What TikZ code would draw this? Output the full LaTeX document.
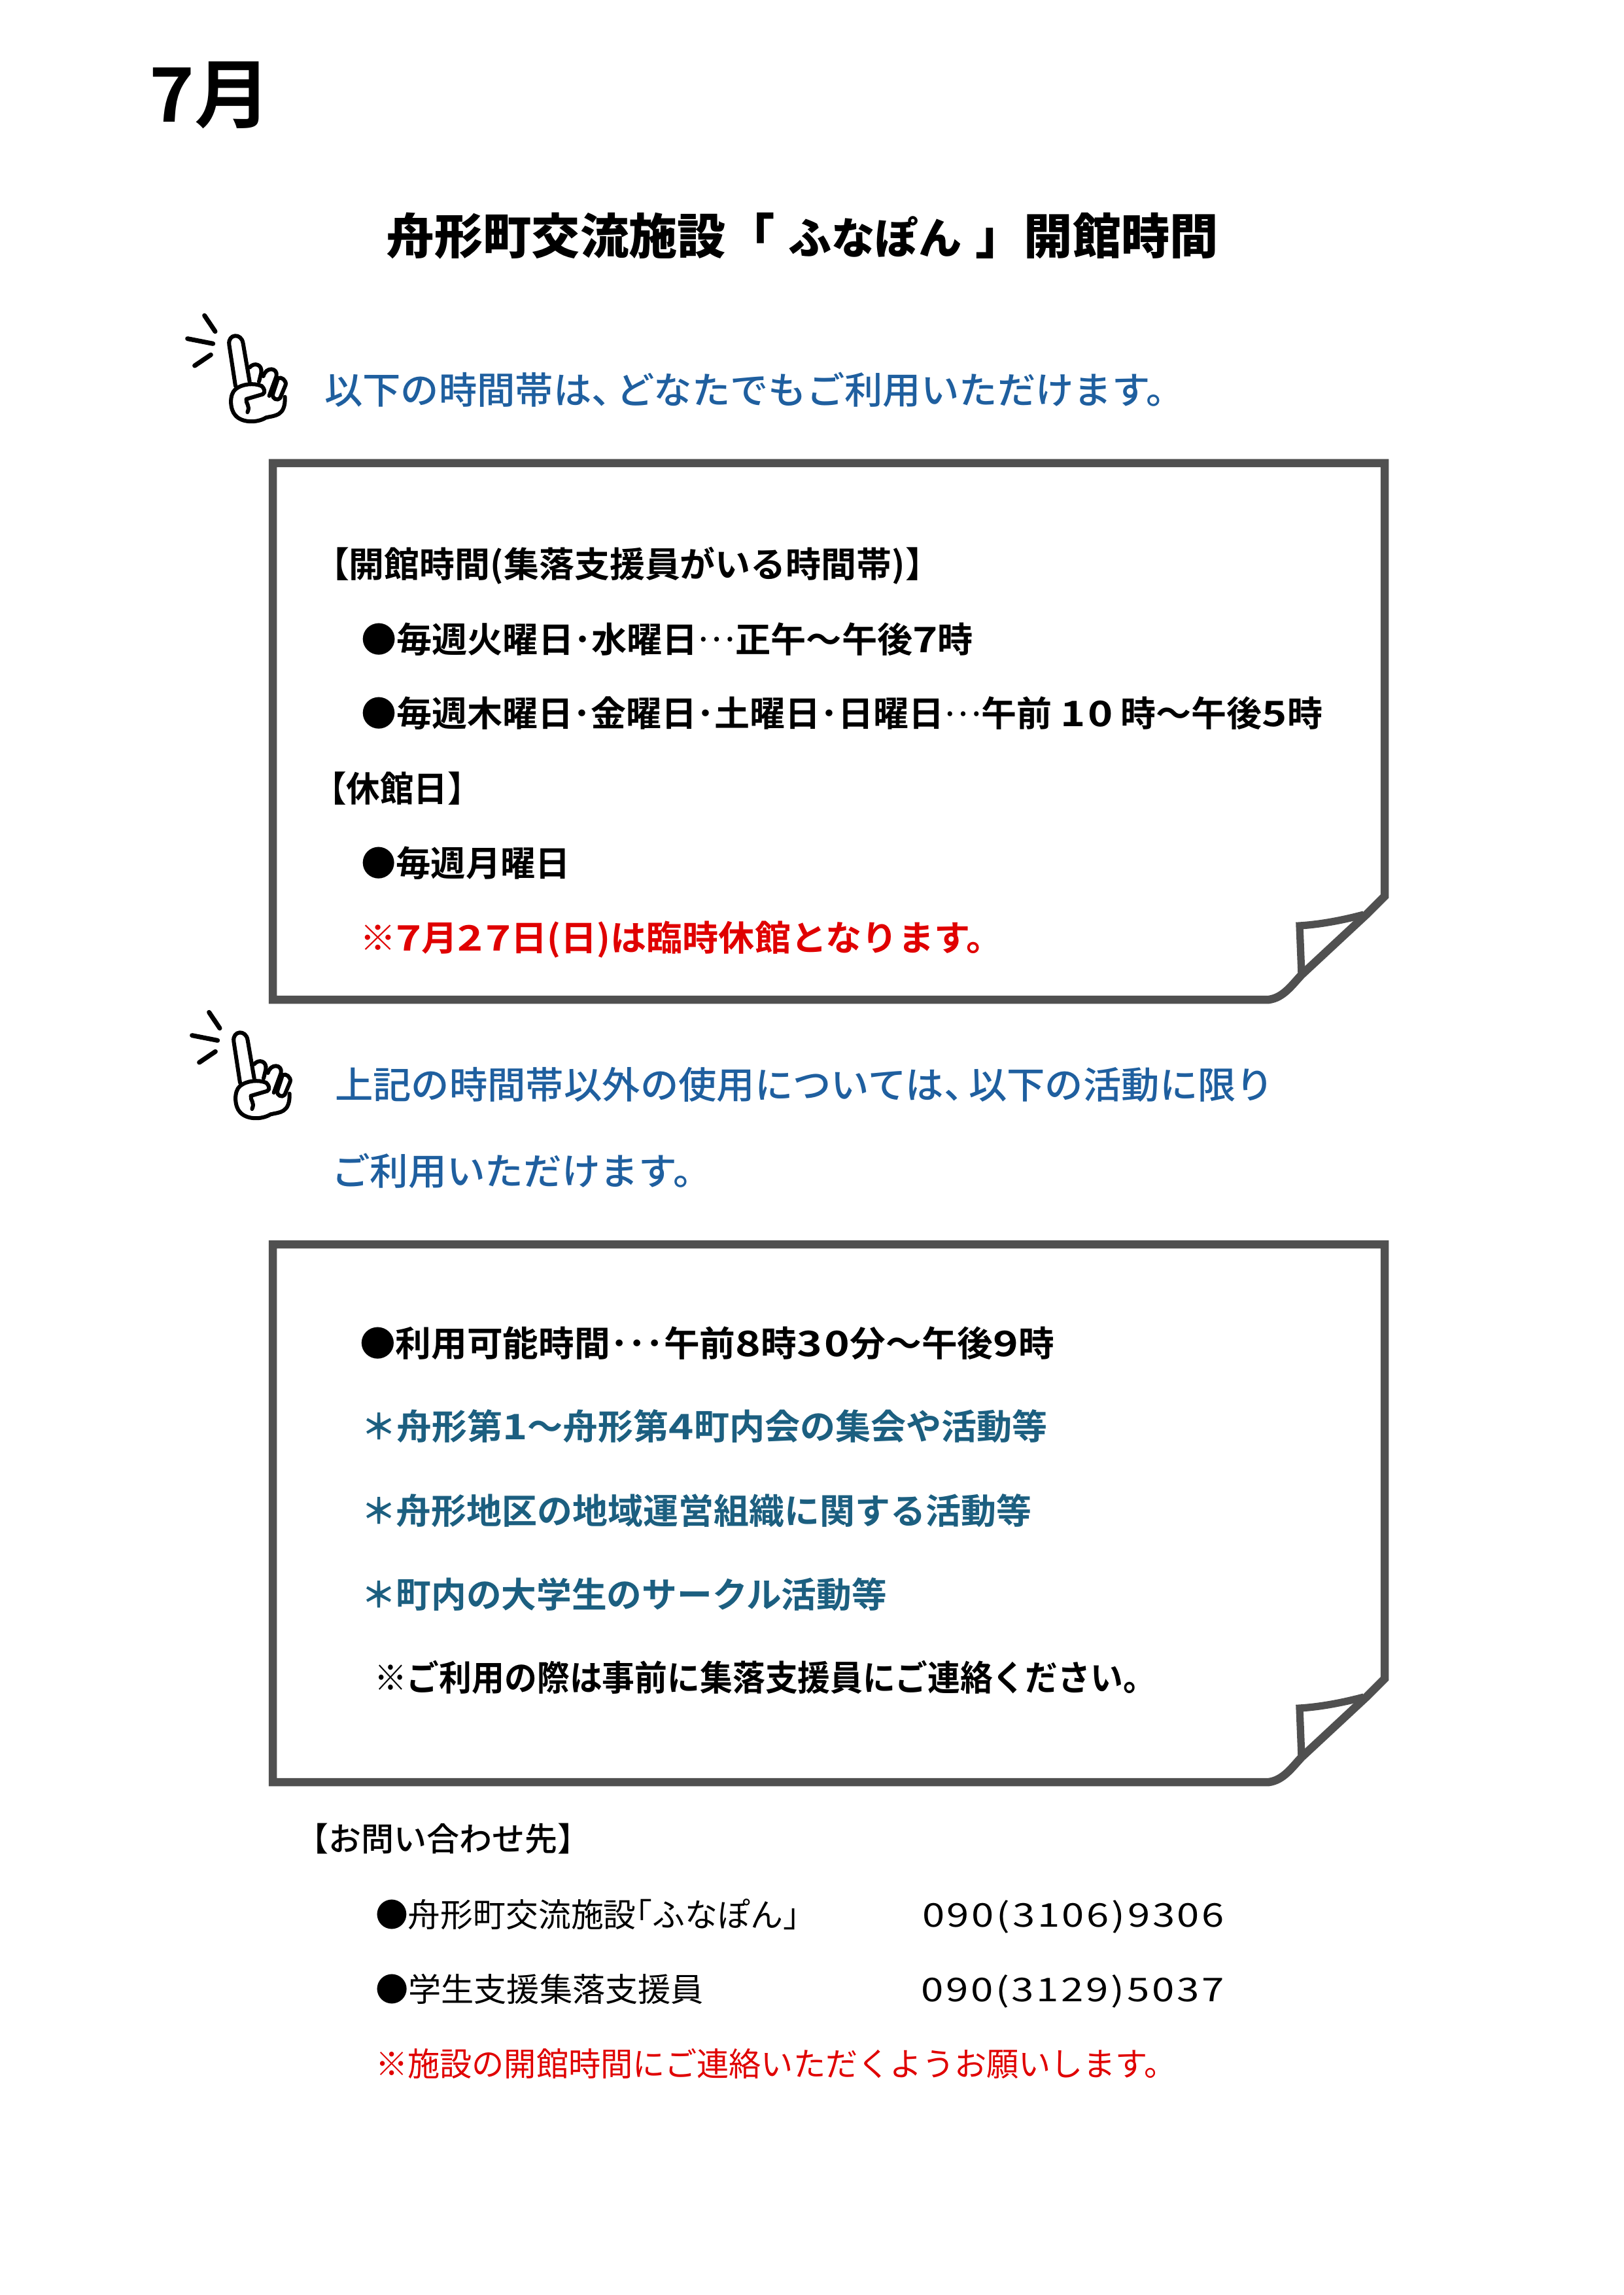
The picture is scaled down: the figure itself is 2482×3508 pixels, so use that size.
\documentclass[tikz,border=0pt]{standalone}
\usepackage{fontspec}
\usepackage{graphicx}
\setmainfont{Noto Sans CJK JP}[BoldFont={Noto Sans CJK JP Bold}]
\newfontfamily\jpm{Noto Sans CJK JP Medium}
\newfontfamily\jpb{Noto Sans CJK JP Bold}
\newfontfamily\jpk{Noto Sans CJK JP Black}
\newfontfamily\jpr{Noto Sans CJK JP}
\newlength{\pxu}\setlength{\pxu}{0.24pt}
\newcommand{\fit}[2]{\resizebox{#1\pxu}{\height}{#2}}
\newcommand{\fsz}[1]{\fontsize{\dimexpr #1\pxu\relax}{\dimexpr 1.2\dimexpr #1\pxu\relax\relax}\selectfont}
\newcommand{\dg}[1]{\scalebox{1.2}[1]{\addfontfeature{LetterSpace=6}#1}}
\newcommand{\tdots}{{\jpr\raisebox{0.3em}{…}}}
\newcommand{\jcomma}{、\kern-20\pxu}
\definecolor{framegray}{HTML}{505050}
\definecolor{headblue}{HTML}{1F5F9F}
\definecolor{teal2}{HTML}{1C5F80}
\definecolor{red2}{HTML}{E00000}
\usetikzlibrary{calc}
\tikzset{
  x=0.24pt,y=-0.24pt,
  txt/.style={anchor=base west,inner sep=0pt,outer sep=0pt},
  body/.style={txt,font=\jpb\fsz{53.6},text=black},
  head/.style={txt,font=\jpm\fsz{57},text=headblue},
  tealtxt/.style={txt,font=\jpb\fsz{53.6},text=teal2},
  redtxt/.style={txt,font=\jpb\fsz{53.6},text=red2},
  small/.style={txt,font=\jpr\fsz{50},text=black},
  frameline/.style={draw=framegray,line width=3pt,line join=miter},
  handline/.style={draw=black,line width=1.45pt,line cap=round,line join=round},
  rayline/.style={draw=black,line width=1.7pt,line cap=round},
}
\newcommand{\paper}[2]{% top y, bottom y
  \draw[frameline] (2117,{#2-158}) -- (2117,#1) -- (417,#1) -- (417,#2) -- (1940,#2)
     .. controls (1962,{#2-3}) and (1975,{#2-22}) .. (1990,{#2-38})
     -- (2090,{#2-131}) -- (2117,{#2-158}) -- cycle;
  \draw[frameline,line width=2.7pt] (1990,{#2-38}) -- (1987,{#2-113})
     .. controls (2020,{#2-115}) and (2055,{#2-122}) .. (2085,{#2-130});
}
\newcommand{\handicon}[2]{%
  \begin{scope}[shift={(#1,#2)},x=0.08pt,y=-0.08pt]
    \draw[rayline] (158,97) -- (207,170);
    \draw[rayline] (80,203) -- (197,226);
    \draw[rayline] (113,327) -- (187,277);
    \draw[handline] (300,420) -- (271,230) .. controls (265,180) and (328,175) .. (335,225) -- (365,400);
    \draw[handline] (420,420) .. controls (385,405) and (330,410) .. (300,435)
      .. controls (270,460) and (275,530) .. (300,555)
      .. controls (330,590) and (400,590) .. (440,565)
      .. controls (480,555) and (530,560) .. (527,470);
    \draw[handline] (365,335) .. controls (385,310) and (425,320) .. (418,360) -- (408,400);
    \draw[handline] (428,375) .. controls (440,330) and (495,335) .. (488,375) -- (455,465);
    \draw[handline] (495,385) .. controls (510,375) and (535,395) .. (530,415) -- (505,475)
      .. controls (495,490) and (465,480) .. (472,455) -- (495,385);
    \draw[handline] (355,540) .. controls (370,510) and (345,500) .. (350,480) -- (425,458)
      .. controls (440,450) and (432,430) .. (420,420);
  \end{scope}
}
\begin{document}
\begin{tikzpicture}
\useasboundingbox (0,0) rectangle (2482,3508);
\fill[white] (0,0) rectangle (2482,3508);

\node[txt,font=\jpb\fsz{115}] (month) at (228,187) {\fit{186}{7月}};
\node[txt,font=\jpk\fsz{74}] (title) at (590,389) {\fit{1273}{舟形町交流施設「\hspace{21\pxu}{\fsz{66}ふなぽん}\hspace{21\pxu}」開館時間}};

\handicon{260}{450}
\node[head] (h1) at (496,618) {\fit{1315}{以下の時間帯は\jcomma どなたでもご利用いただけます。}};

\paper{708}{1528}
\node[body] (a1) at (480,883) {\fit{958}{【開館時間(集落支援員がいる時間帯)】}};
\node[body] (a2) at (552,997) {\fit{936}{●毎週火曜日･水曜日\tdots 正午～午後\dg{7}時}};
\node[body] (a3) at (552,1111) {\fit{1470}{●毎週木曜日･金曜日･土曜日･日曜日\tdots 午前 \dg{10} 時～午後\dg{5}時}};
\node[body] (a4) at (478,1225) {\fit{258}{【休館日】}};
\node[body] (a5) at (552,1339) {\fit{320}{●毎週月曜日}};
\node[redtxt] (a6) at (550,1453) {\fit{983}{※\dg{7}月\dg{27}日(日)は臨時休館となります。}};

\handicon{267}{1515}
\node[head] (h2) at (512,1679) {\fit{1436}{上記の時間帯以外の使用については\jcomma 以下の活動に限り}};
\node[head] (h3) at (507,1811) {\fit{581}{ご利用いただけます。}};

\paper{1902}{2724}
\node[body] (b1) at (550,2073) {\fit{1062}{●利用可能時間･･･午前\dg{8}時\dg{30}分～午後\dg{9}時}};
\node[tealtxt] (b2) at (552,2200) {\fit{1050}{＊舟形第\dg{1}～舟形第\dg{4}町内会の集会や活動等}};
\node[tealtxt] (b3) at (552,2329) {\fit{1025}{＊舟形地区の地域運営組織に関する活動等}};
\node[tealtxt] (b4) at (552,2457) {\fit{804}{＊町内の大学生のサークル活動等}};
\node[body] (b5) at (572,2584) {\fit{1195}{※ご利用の際は事前に集落支援員にご連絡ください。}};

\node[txt,font=\jpm\fsz{50}] (c1) at (452,2829) {\fit{450}{【お問い合わせ先】}};
\node[small] (c2) at (574,2945) {\fit{648}{●舟形町交流施設｢ふなぽん｣}};
\node[small] (c3) at (1410,2945) {\fit{462}{\dg{090(3106)9306}}};
\node[small] (c4) at (574,3059) {\fit{502}{●学生支援集落支援員}};
\node[small] (c5) at (1408,3059) {\fit{464}{\dg{090(3129)5037}}};
\node[small,text=red2] (c6) at (574,3173) {\fit{1225}{※施設の開館時間にご連絡いただくようお願いします。}};
\end{tikzpicture}
\end{document}
